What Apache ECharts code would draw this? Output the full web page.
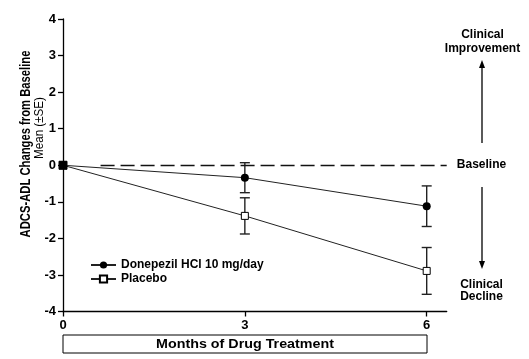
<!DOCTYPE html>
<html><head><meta charset="utf-8">
<script src="https://cdn.jsdelivr.net/npm/echarts@6/dist/echarts.min.js"></script>
<style>html,body{margin:0;padding:0;background:#fff}#c{width:529px;height:359px}</style>
</head><body><div id="c"></div>
<script>
const months = [0, 3, 6];
const xTicks = [0, 3, 6];
const yTicks = [-4, -3, -2, -1, 0, 1, 2, 3, 4];
const donepezil = [0, -0.34, -1.12];
const donepezilSE = [0, 0.41, 0.555];
const placebo = [0, -1.385, -2.89];
const placeboSE = [0, 0.495, 0.64];
const seriesNames = ['Donepezil HCl 10 mg/day', 'Placebo'];

const FONT = 'Liberation Sans, Arial, sans-serif';
const chart = echarts.init(document.getElementById('c'), null, {renderer: 'canvas'});

function errData(vals, se) {
  return months.map((m, i) => [m, vals[i] - se[i], vals[i] + se[i]]).filter((d, i) => se[i] > 0);
}
function errSeries(vals, se) {
  return {
    type: 'custom', silent: true, z: 1,
    data: errData(vals, se),
    renderItem: function (params, api) {
      const lo = api.coord([api.value(0), api.value(1)]);
      const hi = api.coord([api.value(0), api.value(2)]);
      const w = 5;
      const st = {stroke: '#222', lineWidth: 1.4};
      return {type: 'group', children: [
        {type: 'line', shape: {x1: lo[0], y1: lo[1], x2: hi[0], y2: hi[1]}, style: st},
        {type: 'line', shape: {x1: lo[0] - w, y1: lo[1], x2: lo[0] + w, y2: lo[1]}, style: st},
        {type: 'line', shape: {x1: hi[0] - w, y1: hi[1], x2: hi[0] + w, y2: hi[1]}, style: st}
      ]};
    }
  };
}

const option = {
  animation: false,
  backgroundColor: '#fff',
  grid: {left: 63, right: 82.3, top: 19, bottom: 47.5, containLabel: false},
  xAxis: {
    type: 'value', min: 0, max: 6.33, interval: 3,
    axisLine: {show: true, onZero: false, lineStyle: {color: '#000', width: 1.3}},
    axisTick: {show: true, length: 5, inside: false, customValues: xTicks, lineStyle: {color: '#000', width: 1.3}},
    axisLabel: {show: true, customValues: xTicks, margin: 7, color: '#000', fontFamily: FONT, fontWeight: 'bold', fontSize: 13},
    splitLine: {show: false}
  },
  yAxis: {
    type: 'value', min: -4, max: 4, interval: 1,
    axisLine: {show: true, onZero: false, lineStyle: {color: '#000', width: 1.3}},
    axisTick: {show: true, length: 5, lineStyle: {color: '#000', width: 1.3}},
    axisLabel: {show: true, margin: 7, color: '#000', fontFamily: FONT, fontWeight: 'bold', fontSize: 13},
    splitLine: {show: false}
  },
  legend: {
    orient: 'vertical', left: 85, top: 254, itemWidth: 25, itemHeight: 9, itemGap: 2,
    textStyle: {color: '#000', fontFamily: FONT, fontWeight: 'bold', fontSize: 12},
    data: seriesNames
  },
  series: [
    errSeries(donepezil, donepezilSE),
    errSeries(placebo, placeboSE),
    {
      name: seriesNames[1], type: 'line', z: 3,
      data: months.map((m, i) => i === 0 ? {value: [m, placebo[i]], symbol: 'rect', symbolSize: 8, itemStyle: {color: '#000'}} : [m, placebo[i]]),
      symbol: 'rect', symbolSize: 7,
      lineStyle: {color: '#222', width: 1},
      itemStyle: {color: '#fff', borderColor: '#000', borderWidth: 1},
      emphasis: {disabled: true}
    },
    {
      name: seriesNames[0], type: 'line', z: 4,
      data: months.map((m, i) => i === 0 ? {value: [m, donepezil[i]], symbol: 'rect', symbolSize: 8} : [m, donepezil[i]]),
      symbol: 'circle', symbolSize: 8,
      lineStyle: {color: '#222', width: 1},
      itemStyle: {color: '#000', borderColor: '#000', borderWidth: 0},
      emphasis: {disabled: true},
      markLine: {
        silent: true, symbol: 'none', label: {show: false},
        lineStyle: {color: '#111', width: 1.4, type: [14, 6]},
        data: [[{coord: [0.62, 0]}, {coord: [6.33, 0]}]]
      }
    }
  ],
  graphic: [
    {type: 'text', x: 25.5, y: 144, rotation: Math.PI / 2, scaleX: 0.75,
      style: {text: 'ADCS-ADL Changes from Baseline', font: 'bold 15px ' + FONT, fill: '#000', align: 'center', verticalAlign: 'middle'}},
    {type: 'text', x: 39, y: 128, rotation: Math.PI / 2, scaleX: 0.86,
      style: {text: 'Mean (±SE)', font: '13.5px ' + FONT, fill: '#000', align: 'center', verticalAlign: 'middle'}},
    {type: 'rect', shape: {x: 63, y: 335, width: 364, height: 18}, style: {fill: '#fff', stroke: '#000', lineWidth: 1}},
    {type: 'text', x: 245, y: 344.5, scaleX: 1.1,
      style: {text: 'Months of Drug Treatment', font: 'bold 13px ' + FONT, fill: '#000', align: 'center', verticalAlign: 'middle'}},
    {type: 'text', x: 482.5, y: 42,
      style: {text: 'Clinical\nImprovement', font: 'bold 12px ' + FONT, lineHeight: 14, fill: '#000', align: 'center', verticalAlign: 'middle'}},
    {type: 'line', shape: {x1: 482, y1: 143, x2: 482, y2: 66}, style: {stroke: '#000', lineWidth: 1.3}},
    {type: 'polygon', shape: {points: [[482, 60], [479, 68], [485, 68]]}, style: {fill: '#000'}},
    {type: 'text', x: 481.5, y: 165,
      style: {text: 'Baseline', font: 'bold 12px ' + FONT, fill: '#000', align: 'center', verticalAlign: 'middle'}},
    {type: 'line', shape: {x1: 482, y1: 187, x2: 482, y2: 262}, style: {stroke: '#000', lineWidth: 1.3}},
    {type: 'polygon', shape: {points: [[482, 269], [479, 261], [485, 261]]}, style: {fill: '#000'}},
    {type: 'text', x: 481.5, y: 291,
      style: {text: 'Clinical\nDecline', font: 'bold 12px ' + FONT, lineHeight: 12, fill: '#000', align: 'center', verticalAlign: 'middle'}}
  ]
};
chart.setOption(option);
</script>
</body></html>
